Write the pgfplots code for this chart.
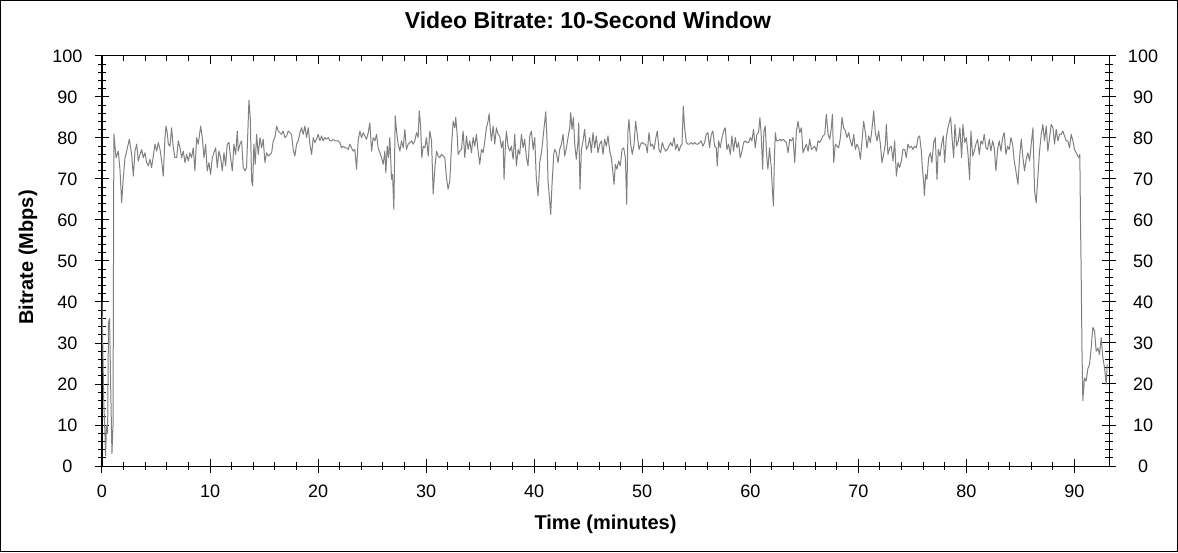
\documentclass[border=0pt]{standalone}
\usepackage{fontspec}
\setmainfont{Liberation Sans}
\usepackage{pgfplots}
\pgfplotsset{compat=1.18}
\frenchspacing

\pgfplotsset{
  chartbox/.style={
    at={(102pt,86pt)}, anchor=south west,
    scale only axis, width=1007pt, height=410pt,
    xmin=0, xmax=93.2, ymin=0, ymax=100,
    xtick={0,10,...,90}, ytick={0,10,...,100},
    minor x tick num=4, minor y tick num=4,
    axis line style={line width=1pt},
    tick style={line width=1pt, black},
    tick label style={font=\fontsize{18}{20}\selectfont},
    /pgf/number format/assume math mode=true,
  }
}

\begin{document}
\begin{tikzpicture}
\draw[line width=1pt] (0.5pt,0.5pt) rectangle (1177.5pt,551.5pt);

% top ticks, pointing in
\begin{axis}[chartbox, hide y axis, xtick pos=right, tick align=inside,
  major tick length=8pt, minor tick length=5pt, xticklabels={}]
\end{axis}

% right scale
\begin{axis}[chartbox, hide x axis, ytick pos=right, yticklabel pos=right,
  tick align=center, major tick length=14pt, minor tick length=8pt,
  yticklabel style={anchor=center, xshift=27pt}]
\end{axis}

\begin{axis}[chartbox,
  tick align=center, xtick pos=left, ytick pos=left,
  major tick length=14pt, minor tick length=8pt,
  title={Video Bitrate: 10-Second Window},
  title style={font=\bfseries\fontsize{23}{26}\selectfont,
    at={(axis description cs:0.4826,1.0522)}, anchor=base},
  xlabel={Time (minutes)},
  xlabel style={font=\bfseries\fontsize{20}{24}\selectfont,
    at={(axis description cs:0.5,-0.1537)}, anchor=base},
  ylabel={Bitrate (Mbps)},
  ylabel style={font=\bfseries\fontsize{20}{24}\selectfont,
    at={(axis description cs:-0.0735,0.5085)}, anchor=center},
  xticklabel style={anchor=base, yshift=-24pt},
  yticklabel style={anchor=center, xshift=-27.5pt},
]
\addplot[gray, line width=1pt, line join=round] coordinates {
(0.00,40) (0.08,28) (0.16,16) (0.26,9) (0.33,2.5) (0.42,10) (0.52,8) (0.60,35) (0.70,36) (0.80,20) (0.92,3) (1.02,10) (1.10,81)
(1.30,75.2) (1.51,76.8) (1.67,72.0) (1.82,64.2) (1.97,70.3) (2.13,75.2) (2.28,76.8) (2.53,79.7) (2.74,76.0) (2.90,70.7)
(3.05,76.8) (3.21,78.5) (3.36,74.4) (3.52,76.0) (3.67,77.2) (3.82,75.2) (3.98,76.4) (4.13,74.0) (4.29,73.2) (4.44,74.8)
(4.59,72.8) (4.75,75.6) (4.90,78.5) (5.06,76.8) (5.21,78.9) (5.37,77.2) (5.52,74.4) (5.67,70.7) (5.83,80.1) (5.92,82.9)
(6.04,81.3) (6.14,78.5) (6.29,78.0) (6.44,82.5) (6.60,77.6) (6.75,75.2) (6.91,75.2) (7.06,79.3) (7.22,77.6) (7.37,75.2)
(7.52,76.8) (7.68,74.0) (7.83,76.0) (7.99,74.4) (8.14,76.4) (8.29,75.2) (8.45,77.6) (8.60,72.0) (8.76,80.1) (8.91,78.5)
(9.13,82.9) (9.28,80.1) (9.44,75.2) (9.59,78.5) (9.74,72.0) (9.90,74.0) (10.05,71.1) (10.21,75.2) (10.36,76.4) (10.52,77.6)
(10.67,72.8) (10.82,76.8) (10.98,75.2) (11.13,72.0) (11.29,76.4) (11.44,73.2) (11.59,78.5) (11.75,78.9) (11.90,75.2) (12.06,72.0)
(12.21,78.5) (12.37,76.0) (12.52,81.7) (12.61,76.8) (12.77,78.5) (12.92,79.3) (13.07,72.8) (13.23,72.0) (13.38,72.8) (13.48,80.1)
(13.60,89.2) (13.72,85.0) (13.85,69.5) (13.94,68.3) (14.06,78.5) (14.18,73.6) (14.31,80.9) (14.46,76.0) (14.62,80.1) (14.77,77.6)
(14.92,79.7) (15.08,74.0) (15.23,76.4) (15.39,75.6) (15.54,76.0) (15.70,76.4) (15.85,79.3) (16.00,80.1) (16.16,82.9) (16.31,81.7)
(16.47,81.3) (16.62,80.9) (16.77,81.7) (16.93,80.1) (17.08,80.5) (17.24,81.7) (17.39,81.3) (17.54,80.9) (17.70,77.2) (17.85,75.6)
(18.01,78.5) (18.16,79.3) (18.32,81.3) (18.47,82.5) (18.62,80.9) (18.78,82.9) (18.93,80.1) (19.09,82.5) (19.24,78.5) (19.40,76.0)
(19.55,80.1) (19.70,78.9) (19.86,79.7) (20.01,80.9) (20.17,79.3) (20.32,80.5) (20.47,79.3) (20.63,80.1) (20.78,79.7) (20.94,80.1)
(21.09,79.3) (21.25,79.3) (21.40,79.7) (21.55,79.3) (21.71,79.3) (21.86,79.3) (22.02,78.9) (22.17,77.6) (22.33,78.0) (22.48,77.6)
(22.63,77.6) (22.79,77.2) (22.94,78.5) (23.10,77.6) (23.25,76.8) (23.40,77.2) (23.56,72.4) (23.71,79.3) (23.87,81.7) (24.02,80.1)
(24.18,81.3) (24.33,80.5) (24.48,79.7) (24.64,81.3) (24.79,83.7) (24.95,76.8) (25.10,80.1) (25.26,79.3) (25.41,80.9) (25.56,77.6)
(25.72,76.4) (25.87,75.2) (26.03,73.6) (26.18,76.8) (26.27,71.5) (26.40,78.0) (26.52,75.2) (26.64,80.1) (26.80,69.9) (26.89,71.1)
(27.01,62.6) (27.14,85.4) (27.26,81.7) (27.41,78.5) (27.57,76.8) (27.72,79.3) (27.88,77.6) (28.03,82.1) (28.18,77.2) (28.34,78.5)
(28.49,78.9) (28.65,79.3) (28.80,78.5) (28.95,79.3) (29.11,81.3) (29.26,80.1) (29.36,86.6) (29.48,83.3) (29.60,75.2) (29.73,78.0)
(29.88,77.6) (30.03,80.1) (30.19,75.6) (30.34,81.7) (30.50,79.3) (30.65,66.3) (30.81,72.8) (30.96,76.8) (31.11,75.6)
(31.26,75.2) (31.42,76.0) (31.57,75.6) (31.73,75.2) (31.88,70.3) (32.03,67.5) (32.19,69.5) (32.34,77.6) (32.50,84.1) (32.65,82.5)
(32.74,85.0) (32.87,80.9) (32.96,76.0) (33.11,76.8) (33.27,77.2) (33.42,81.7) (33.58,75.2) (33.73,80.5) (33.88,77.2) (34.04,79.3)
(34.19,76.4) (34.35,80.1) (34.50,78.0) (34.65,80.9) (34.81,76.8) (34.96,73.6) (35.12,77.2) (35.27,76.4) (35.43,79.3) (35.58,82.5)
(35.73,84.1) (35.83,85.9) (35.95,81.7) (36.04,79.3) (36.20,82.9) (36.35,78.5) (36.50,82.5) (36.66,80.9) (36.81,80.5) (36.97,77.6)
(37.12,79.3) (37.21,69.9) (37.34,78.5) (37.43,81.7) (37.58,78.0) (37.74,76.8) (37.89,78.0) (38.05,74.8) (38.20,80.9) (38.35,73.2)
(38.51,77.2) (38.66,76.0) (38.82,80.9) (38.97,77.6) (39.12,79.7) (39.28,75.2) (39.43,73.2) (39.59,80.5) (39.74,81.7) (39.90,77.2)
(40.05,80.1) (40.20,69.9) (40.36,65.9) (40.51,74.0) (40.67,76.4) (40.82,80.1) (40.98,84.1) (41.07,86.4) (41.19,79.3) (41.28,69.5)
(41.44,64.6) (41.53,61.4) (41.65,68.7) (41.81,76.0) (41.90,77.2) (42.05,76.4) (42.21,74.0) (42.36,77.2) (42.52,78.5) (42.67,80.9)
(42.82,75.6) (42.98,77.6) (43.13,80.1) (43.29,82.5) (43.38,86.2) (43.50,82.1) (43.63,85.0) (43.75,78.5) (43.90,74.8) (44.06,79.3)
(44.12,83.7) (44.24,67.5) (44.37,77.2) (44.52,79.3) (44.67,82.1) (44.83,77.2) (44.98,78.0) (45.14,80.1) (45.29,76.4) (45.44,81.3)
(45.60,77.6) (45.75,80.5) (45.91,76.4) (46.06,78.5) (46.22,79.3) (46.37,76.0) (46.52,79.7) (46.68,78.0) (46.83,80.5) (46.99,76.8)
(47.14,75.2) (47.29,71.5) (47.39,68.7) (47.51,73.6) (47.66,72.4) (47.82,74.4) (47.97,73.2) (48.13,77.2) (48.28,77.6) (48.44,75.2)
(48.56,63.8) (48.68,81.7) (48.77,84.5) (48.93,78.5) (49.08,76.0) (49.24,78.5) (49.39,84.1) (49.55,80.5) (49.70,77.2) (49.85,78.5)
(50.01,78.9) (50.16,78.5) (50.32,78.5) (50.47,76.4) (50.62,81.3) (50.78,78.0) (50.93,78.5) (51.09,77.2) (51.24,79.7) (51.39,81.7)
(51.55,77.2) (51.70,76.4) (51.86,78.9) (52.01,77.6) (52.17,76.8) (52.32,77.2) (52.47,78.0) (52.63,78.9) (52.78,78.0) (52.94,80.1)
(53.09,77.2) (53.24,78.5) (53.40,76.8) (53.55,78.0) (53.68,78.5) (53.80,87.8) (53.92,82.5) (54.08,78.9) (54.23,78.5) (54.38,78.5)
(54.54,78.9) (54.69,78.5) (54.85,78.9) (55.00,78.5) (55.16,78.5) (55.31,78.9) (55.46,79.3) (55.62,78.0) (55.77,78.9) (55.93,80.9)
(56.08,81.3) (56.23,77.6) (56.39,80.9) (56.54,81.7) (56.70,78.0) (56.85,77.6) (56.94,73.2) (57.07,79.3) (57.22,77.6) (57.38,80.1)
(57.53,81.7) (57.68,82.5) (57.84,77.2) (57.99,78.5) (58.15,76.0) (58.30,80.5) (58.45,76.8) (58.61,80.1) (58.76,77.6) (58.92,78.9)
(59.07,75.2) (59.23,76.8) (59.38,78.9) (59.53,79.3) (59.69,78.9) (59.84,78.9) (60.00,80.1) (60.15,79.3) (60.30,82.1) (60.46,77.6)
(60.61,80.9) (60.77,81.3) (60.89,85.0) (61.01,80.9) (61.14,72.4) (61.26,81.7) (61.38,82.9) (61.51,76.0) (61.63,72.4) (61.78,77.6)
(61.94,72.8) (62.05,67.1) (62.14,63.4) (62.23,75.2) (62.32,81.3) (62.42,79.3) (62.57,79.3) (62.73,79.7) (62.88,79.3) (63.03,79.7)
(63.19,79.3) (63.34,78.9) (63.50,76.4) (63.65,79.7) (63.80,79.3) (63.96,80.1) (64.11,74.0) (64.27,81.7) (64.42,84.1) (64.57,81.3)
(64.73,82.5) (64.88,76.4) (65.04,77.6) (65.19,78.5) (65.35,76.8) (65.50,79.7) (65.65,77.2) (65.81,77.6) (65.96,78.0) (66.12,76.8)
(66.27,79.3) (66.42,78.9) (66.58,79.7) (66.73,80.5) (66.89,80.9) (67.04,85.8) (67.20,80.9) (67.35,79.7) (67.50,82.5) (67.60,85.8)
(67.72,74.0) (67.87,78.5) (68.03,78.0) (68.18,77.6) (68.34,80.1) (68.49,85.0) (68.64,82.5) (68.80,81.7) (68.95,80.1) (69.11,81.3)
(69.26,79.3) (69.42,78.0) (69.57,80.9) (69.72,77.2) (69.88,78.5) (70.03,77.6) (70.19,74.8) (70.34,79.3) (70.49,84.1) (70.65,81.3)
(70.80,77.6) (70.96,80.5) (71.11,78.9) (71.26,82.1) (71.42,86.6) (71.57,81.3) (71.73,79.3) (71.88,81.7) (72.04,78.5) (72.19,74.0)
(72.34,76.0) (72.50,78.5) (72.59,83.3) (72.74,76.0) (72.90,77.6) (73.05,78.0) (73.21,74.4) (73.36,79.3) (73.52,70.7) (73.67,74.0)
(73.82,72.8) (73.98,74.4) (74.13,77.2) (74.29,77.2) (74.44,75.2) (74.59,78.5) (74.75,77.6) (74.90,78.0) (75.06,77.2) (75.21,78.0)
(75.37,77.6) (75.52,80.1) (75.67,80.5) (75.83,76.8) (75.92,72.8) (76.04,69.5) (76.11,65.9) (76.23,71.1) (76.35,69.9) (76.51,75.2)
(76.66,76.4) (76.81,74.0) (76.97,78.9) (77.12,80.1) (77.28,69.9) (77.40,77.2) (77.55,75.6) (77.71,78.5) (77.86,80.5) (77.99,74.0)
(78.14,80.1) (78.29,82.5) (78.45,84.1) (78.54,85.1) (78.66,80.5) (78.82,75.2) (78.94,83.3) (79.10,78.0) (79.25,79.3) (79.40,82.5)
(79.56,75.2) (79.68,83.3) (79.84,78.9) (79.99,80.1) (80.14,76.4) (80.30,69.9) (80.42,81.7) (80.58,75.6) (80.73,76.8) (80.88,78.5)
(81.04,79.7) (81.19,76.0) (81.35,79.3) (81.50,78.5) (81.65,80.9) (81.81,77.6) (81.96,77.2) (82.12,79.7) (82.27,76.8) (82.43,79.3)
(82.58,77.6) (82.73,72.0) (82.89,77.2) (83.04,79.3) (83.20,76.8) (83.35,80.1) (83.50,81.3) (83.66,76.0) (83.81,78.0) (83.97,77.2)
(84.12,80.1) (84.28,78.5) (84.43,74.4) (84.58,72.0) (84.77,68.7) (84.92,75.2) (85.08,79.7) (85.23,75.2) (85.38,72.0) (85.54,74.8)
(85.69,76.4) (85.85,74.4) (86.00,78.5) (86.16,82.5) (86.31,67.1) (86.46,64.2) (86.62,70.7) (86.77,76.8) (86.93,80.9) (87.08,83.3)
(87.23,79.3) (87.39,82.9) (87.54,76.8) (87.70,80.1) (87.85,83.3) (88.01,82.5) (88.16,78.5) (88.31,82.1) (88.47,79.3) (88.62,80.9)
(88.78,80.9) (88.93,81.7) (89.08,80.5) (89.24,79.3) (89.39,79.3) (89.55,77.6) (89.70,80.9) (89.86,79.3) (90.01,77.2) (90.16,76.4)
(90.32,75.6) (90.42,75.2) (90.50,76.0) (90.56,60) (90.62,48) (90.70,28) (90.78,15.9) (90.93,21.5) (91.08,20.7) (91.24,23.7)
(91.40,24.8) (91.55,28.8) (91.70,33.8) (91.86,33.0) (92.01,28.0) (92.17,28.8) (92.32,27.2) (92.48,31.3) (92.63,26.4) (92.79,23.9)
(92.94,19.9) (93.03,24.8)
};
\end{axis}
\end{tikzpicture}
\end{document}
